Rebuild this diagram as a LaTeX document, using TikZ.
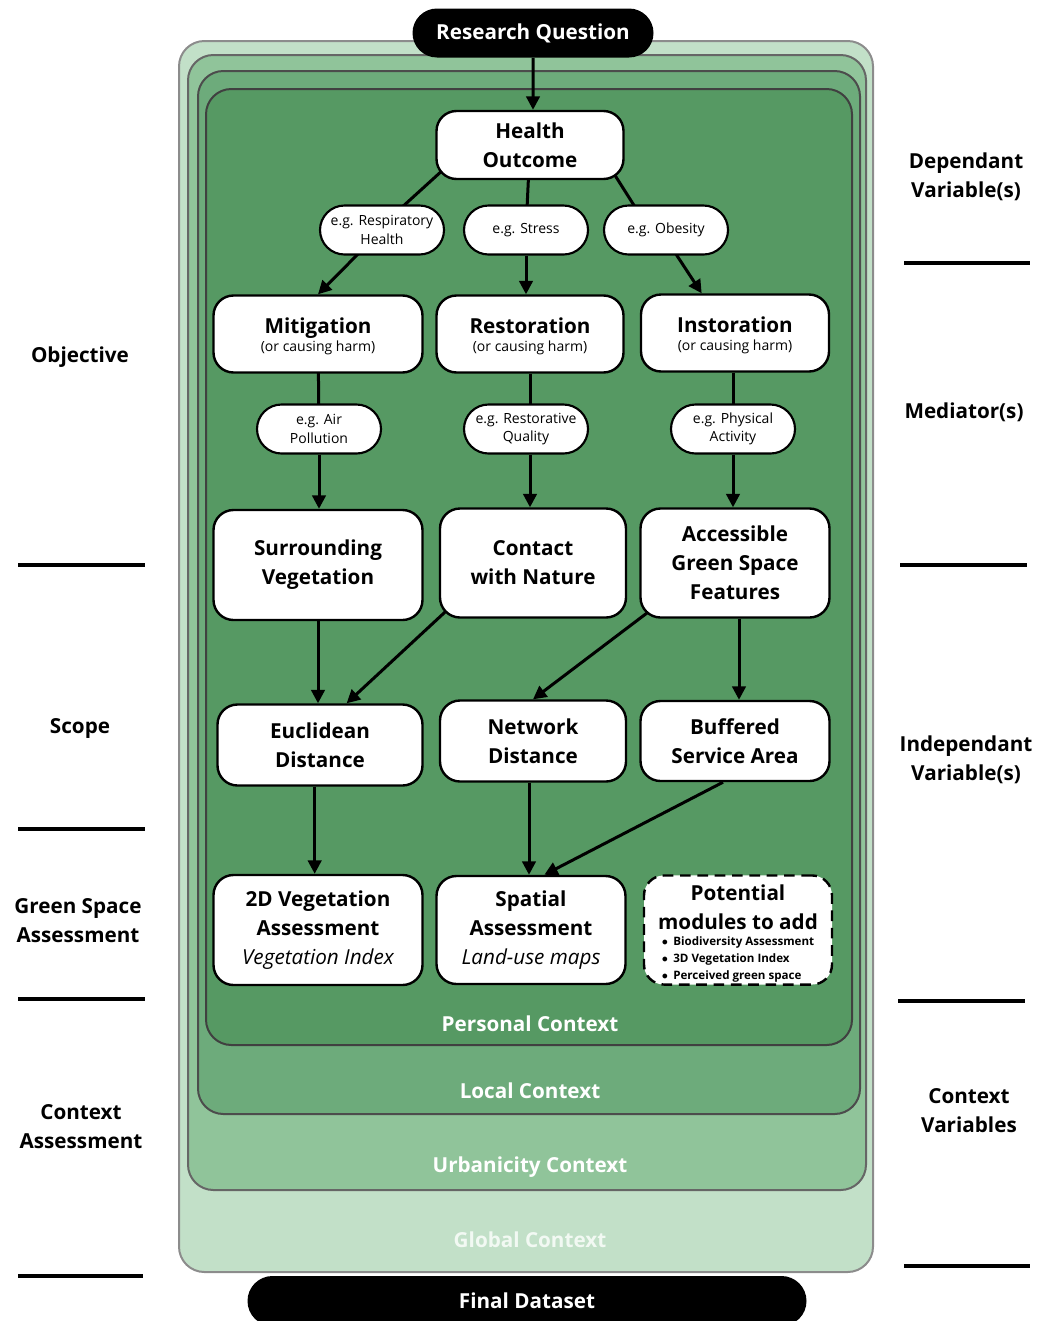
\documentclass[tikz,border=0pt]{standalone}
\usepackage{fontspec}
\setmainfont{Open Sans}
\usetikzlibrary{arrows.meta,shapes.misc,calc}
\pgfdeclarelayer{background}
\pgfdeclarelayer{lines}
\pgfsetlayers{background,lines,main}
\definecolor{cglobal}{HTML}{C2E0C8}
\definecolor{curban}{HTML}{90C49A}
\definecolor{clocal}{HTML}{6DAB7B}
\definecolor{cpersonal}{HTML}{569963}
\definecolor{gltext}{HTML}{F2F9F3}
\newcommand\fB{\fontsize{15.5}{21.75}\selectfont\bfseries}
\newcommand\fS{\fontsize{10.5}{14}\selectfont\mdseries}
\newcommand\fT{\fontsize{8.7}{12.75}\selectfont\bfseries}
\newcommand\fI{\fontsize{15.5}{21.75}\selectfont\mdseries\itshape}
\begin{document}
\begin{tikzpicture}[x=0.75pt,y=-0.75pt,
  sz/.style 2 args={minimum width=#1*0.75pt, minimum height=#2*0.75pt},
  box/.style={draw=black, line width=1.8pt, fill=white, rounded corners=15pt, align=center, inner sep=0pt, font=\fB},
  pill/.style={draw=black, line width=1.6pt, fill=white, rounded rectangle, align=center, inner sep=0pt, font=\fS},
  blk/.style={fill=black, rounded rectangle, align=center, inner sep=0pt, font=\fB, text=white},
  lbl/.style={align=center, font=\fB},
  ctx/.style={font=\fB, text=white},
  arr/.style={line width=2.25pt, -{Triangle[length=10pt,width=10pt]}},
  ln/.style={line width=2.25pt},
  sep/.style={line width=3pt},
  layer/.style={line width=1.5pt, rounded corners=19pt}]
\useasboundingbox (0,0) rectangle (1044,1321);

% context layers
\begin{pgfonlayer}{background}
\draw[layer, fill=cglobal, draw=black!45] (179,41) rectangle (873,1272);
\draw[layer, fill=curban, draw=black!60] (188,55) rectangle (866,1190);
\draw[layer, fill=clocal, draw=black!70] (198,71) rectangle (860,1114);
\draw[layer, fill=cpersonal, draw=black!75] (206,89) rectangle (852,1045);
\end{pgfonlayer}
\node[ctx] (lpers) at (530,1024) {Personal Context};
\node[ctx] (lloc) at (530,1091) {Local Context};
\node[ctx] (lurb) at (530,1167) {Urbanicity Context};
\node[ctx, text=gltext] (lglob) at (530,1240) {Global Context};

% top and bottom
\node[blk, sz={241}{49}] (rq) at (533,33) {Research Question};
\node[blk, sz={559}{50}] (final) at (527,1301) {Final Dataset};

% main nodes
\node[box, sz={187}{68}] (health) at (530,145) {Health\\Outcome};

\node[pill, sz={124}{49}] (resp) at (382,230) {e.g. Respiratory\\Health};
\node[pill, sz={124}{49}] (stress) at (526,230) {e.g. Stress};
\node[pill, sz={124}{49}] (obes) at (666,230) {e.g. Obesity};

\node[box, sz={209}{77}] (mit) at (318,334) {\rule{0pt}{15pt}Mitigation\\[-8pt]{\fS (or causing harm)}};
\node[box, sz={187}{77}] (rest) at (530,334) {\rule{0pt}{15pt}Restoration\\[-8pt]{\fS (or causing harm)}};
\node[box, sz={188}{77}] (inst) at (735,333) {\rule{0pt}{15pt}Instoration\\[-8pt]{\fS (or causing harm)}};

\node[pill, sz={124}{49}] (air) at (319,429) {e.g. Air\\Pollution};
\node[pill, sz={124}{49}] (rqual) at (526,429) {e.g. Restorative\\Quality};
\node[pill, sz={124}{49}] (phys) at (733,429) {e.g. Physical\\Activity};

\node[box, sz={209}{110}] (surr) at (318,565) {Surrounding\\Vegetation};
\node[box, sz={186}{109}] (contact) at (533,563) {Contact\\with Nature};
\node[box, sz={189}{109}] (acc) at (735,563) {Accessible\\Green Space\\Features};

\node[box, sz={205}{81}] (euc) at (320,745) {Euclidean\\Distance};
\node[box, sz={186}{81}] (net) at (533,741) {Network\\Distance};
\node[box, sz={189}{80}] (buf) at (735,741) {Buffered\\Service Area};

\node[box, sz={209}{110}] (veg) at (318,930) {2D Vegetation\\Assessment\\{\fI Vegetation Index}};
\node[box, sz={189}{108}] (spat) at (531,930) {Spatial\\Assessment\\{\fI Land-use maps}};
\node[box, sz={188}{108}, dash pattern=on 8pt off 5pt] (pot) at (738,930) {\rule{0pt}{19pt}Potential\\modules to add\\[-10pt]{\fT\begin{tabular}[t]{@{}l@{}}$\bullet$\hspace{4pt}Biodiversity Assessment\\$\bullet$\hspace{4pt}3D Vegetation Index\\$\bullet$\hspace{4pt}Perceived green space\end{tabular}}};

% connectors (behind the nodes)
\begin{pgfonlayer}{lines}
\draw[ln] ([shift={(-18,-18)}]health.south east) -- ([shift={(-25,12)}]obes.north);
\draw[ln] ([shift={(14,-16)}]health.south west) -- ([shift={(12,10)}]resp.north);
\draw[ln] (health.center) -- (stress.center);
\draw[ln] (mit.center) -- (air.center);
\draw[ln] (rest.center |- rest.south) -- (rest.center |- rqual.center);
\draw[ln] (phys.center |- inst.south) -- (phys.center);
\draw[arr] (rq) -- (rq.south |- health.north);
\draw[arr] ([shift={(-14,14)}]resp.center) -- (mit.north);
\draw[arr] (stress.south) -- (stress.south |- rest.north);
\draw[arr] ([shift={(4,15)}]obes.center) -- ([xshift=-25]inst.north);
\draw[arr] (air.south) -- (air.south |- surr.north);
\draw[arr] (rest.center |- rqual.south) -- (rest.center |- contact.north);
\draw[arr] (phys.south) -- (phys.south |- acc.north);
\draw[arr] (surr.south) -- (surr.south |- euc.north);
\draw[arr] ([shift={(12,-12)}]contact.south west) -- ([xshift=20]euc.north);
\draw[arr] ([shift={(16,-12)}]acc.south west) -- (net.north);
\draw[arr] ([xshift=3]acc.south) -- ([xshift=3]acc.south |- buf.north);
\draw[arr] ([xshift=-4]euc.south) -- ([xshift=-4]euc.south |- veg.north);
\draw[arr] ([xshift=-3]net.south) -- ([xshift=-3]net.south |- spat.north);
\draw[arr] ([shift={(-12,0)}]buf.south) -- ([xshift=10]spat.north);
\end{pgfonlayer}

% side labels
\node[lbl] (lobj) at (80,357) {Objective};
\node[lbl] (lscope) at (80,728) {Scope};
\node[lbl] (lgsa) at (78,921) {Green Space\\Assessment};
\node[lbl] (lca) at (81,1127) {Context\\Assessment};
\node[lbl] (ldep) at (966,177) {Dependant\\Variable(s)};
\node[lbl] (lmed) at (964,412) {Mediator(s)};
\node[lbl] (lind) at (966,760) {Independant\\Variable(s)};
\node[lbl] (lcv) at (969,1111) {Context\\Variables};

\coordinate (a1) at (18,565); \coordinate (a2) at (145,565);
\coordinate (b1) at (18,829); \coordinate (b2) at (145,829);
\coordinate (c1) at (18,999); \coordinate (c2) at (145,999);
\coordinate (d1) at (18,1276); \coordinate (d2) at (143,1276);
\coordinate (e1) at (904,263); \coordinate (e2) at (1030,263);
\coordinate (f1) at (900,565); \coordinate (f2) at (1027,565);
\coordinate (g1) at (898,1001); \coordinate (g2) at (1025,1001);
\coordinate (h1) at (904,1266); \coordinate (h2) at (1030,1266);
\draw[sep] (a1) -- (a2); \draw[sep] (b1) -- (b2); \draw[sep] (c1) -- (c2); \draw[sep] (d1) -- (d2);
\draw[sep] (e1) -- (e2); \draw[sep] (f1) -- (f2); \draw[sep] (g1) -- (g2); \draw[sep] (h1) -- (h2);
\end{tikzpicture}
\end{document}
